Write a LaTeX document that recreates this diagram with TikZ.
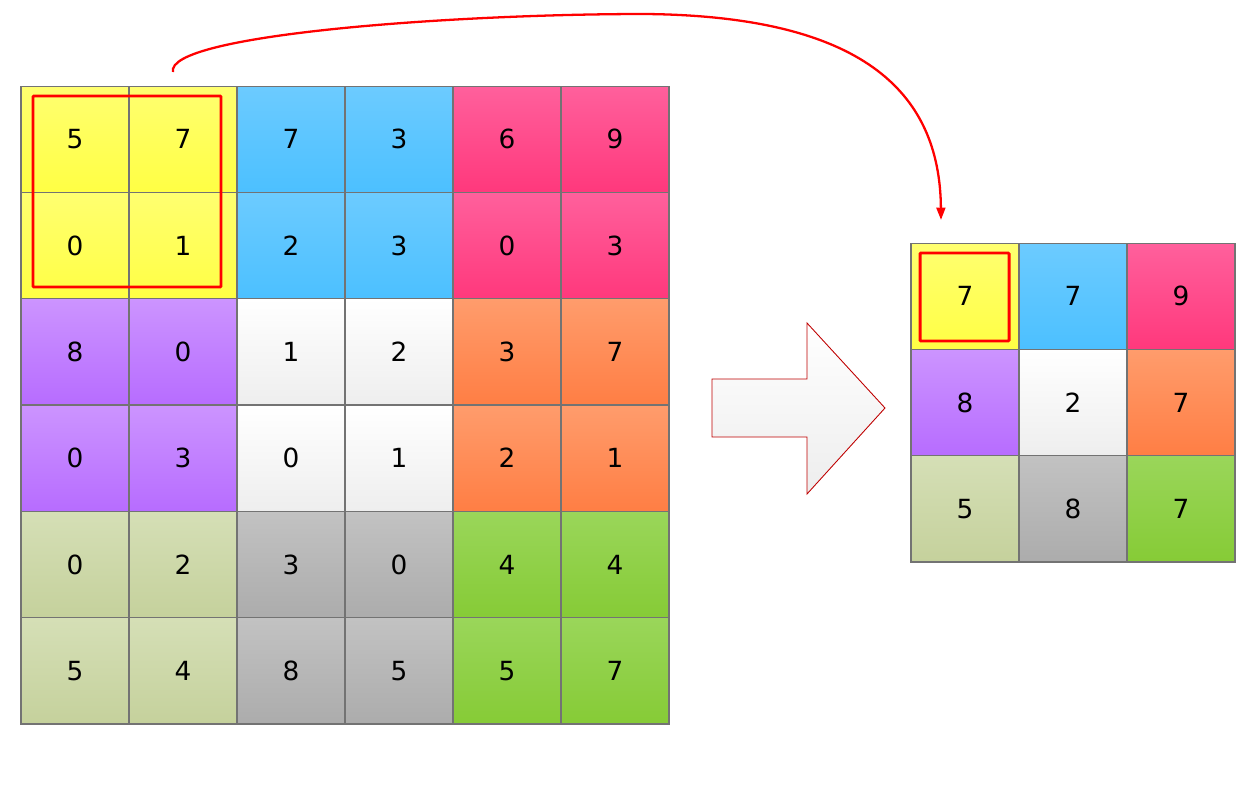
\documentclass[tikz,border=0pt]{standalone}
\usepackage{fontspec}
\setmainfont{DejaVu Sans}
\usetikzlibrary{arrows.meta}

\definecolor{ytop}{HTML}{FFFF70}\definecolor{ybot}{HTML}{FFFF44}
\definecolor{btop}{HTML}{6CCBFF}\definecolor{bbot}{HTML}{4CC0FF}
\definecolor{ptop}{HTML}{FF609C}\definecolor{pbot}{HTML}{FF387C}
\definecolor{vtop}{HTML}{CC94FF}\definecolor{vbot}{HTML}{B76CFF}
\definecolor{wtop}{HTML}{FFFFFF}\definecolor{wbot}{HTML}{EEEEEE}
\definecolor{otop}{HTML}{FF9C6C}\definecolor{obot}{HTML}{FF7E44}
\definecolor{ktop}{HTML}{D5DFB6}\definecolor{kbot}{HTML}{C5D19C}
\definecolor{gtop}{HTML}{C2C2C2}\definecolor{gbot}{HTML}{ACACAC}
\definecolor{ltop}{HTML}{9AD65A}\definecolor{lbot}{HTML}{86CB36}

\tikzset{
  cell/.style={draw=black!55, line width=0.6pt, minimum width=2.16cm,
    minimum height=2.126cm, inner sep=0pt, font=\fontsize{15}{18}\selectfont},
  ycell/.style={cell, top color=ytop, bottom color=ybot},
  bcell/.style={cell, top color=btop, bottom color=bbot},
  pcell/.style={cell, top color=ptop, bottom color=pbot},
  vcell/.style={cell, top color=vtop, bottom color=vbot},
  wcell/.style={cell, top color=wtop, bottom color=wbot},
  ocell/.style={cell, top color=otop, bottom color=obot},
  kcell/.style={cell, top color=ktop, bottom color=kbot},
  gcell/.style={cell, top color=gtop, bottom color=gbot},
  lcell/.style={cell, top color=ltop, bottom color=lbot},
  pickbox/.style={draw=red, line width=1.7pt, rounded corners=0.5pt},
}

\begin{document}
\begin{tikzpicture}[x=0.02cm, y=-0.02cm]
  \useasboundingbox (0,0) rectangle (1248,798);
  % Input feature map (6x6)
  \foreach \c/\r/\v/\s in {
      0/0/5/ycell, 1/0/7/ycell, 2/0/7/bcell, 3/0/3/bcell, 4/0/6/pcell, 5/0/9/pcell,
      0/1/0/ycell, 1/1/1/ycell, 2/1/2/bcell, 3/1/3/bcell, 4/1/0/pcell, 5/1/3/pcell,
      0/2/8/vcell, 1/2/0/vcell, 2/2/1/wcell, 3/2/2/wcell, 4/2/3/ocell, 5/2/7/ocell,
      0/3/0/vcell, 1/3/3/vcell, 2/3/0/wcell, 3/3/1/wcell, 4/3/2/ocell, 5/3/1/ocell,
      0/4/0/kcell, 1/4/2/kcell, 2/4/3/gcell, 3/4/0/gcell, 4/4/4/lcell, 5/4/4/lcell,
      0/5/5/kcell, 1/5/4/kcell, 2/5/8/gcell, 3/5/5/gcell, 4/5/5/lcell, 5/5/7/lcell}
    \node[\s] (in-\r-\c) at ({75+108*\c}, {139.2+106.33*\r}) {\v};
  % Pooled output (3x3)
  \foreach \c/\r/\v/\s in {
      0/0/7/ycell, 1/0/7/bcell, 2/0/9/pcell,
      0/1/8/vcell, 1/1/2/wcell, 2/1/7/ocell,
      0/2/5/kcell, 1/2/8/gcell, 2/2/7/lcell}
    \node[\s] (out-\r-\c) at ({965+108*\c}, {296.2+106.33*\r}) {\v};
  % Pooling windows
  \draw[pickbox] (33,96) rectangle (221,287);
  \draw[pickbox] (920,253) rectangle (1009,341);
  % Big arrow
  \path[draw=red!75!black, line width=0.5pt, top color=white, bottom color=black!7]
    (712,379) -- (807,379) -- (807,323) -- (885,408) -- (807,494)
    -- (807,437) -- (712,437) -- cycle;
  % Curved connector
  \coordinate (src) at (173,72);
  \coordinate (dst) at (941,220);
  \draw[red, line width=1.3pt, -{Triangle[length=7pt,width=5pt]}]
    (src) .. controls (165,35) and (450,14) .. (645,14)
    .. controls (860,16) and (940,90) .. (dst);
\end{tikzpicture}
\end{document}
